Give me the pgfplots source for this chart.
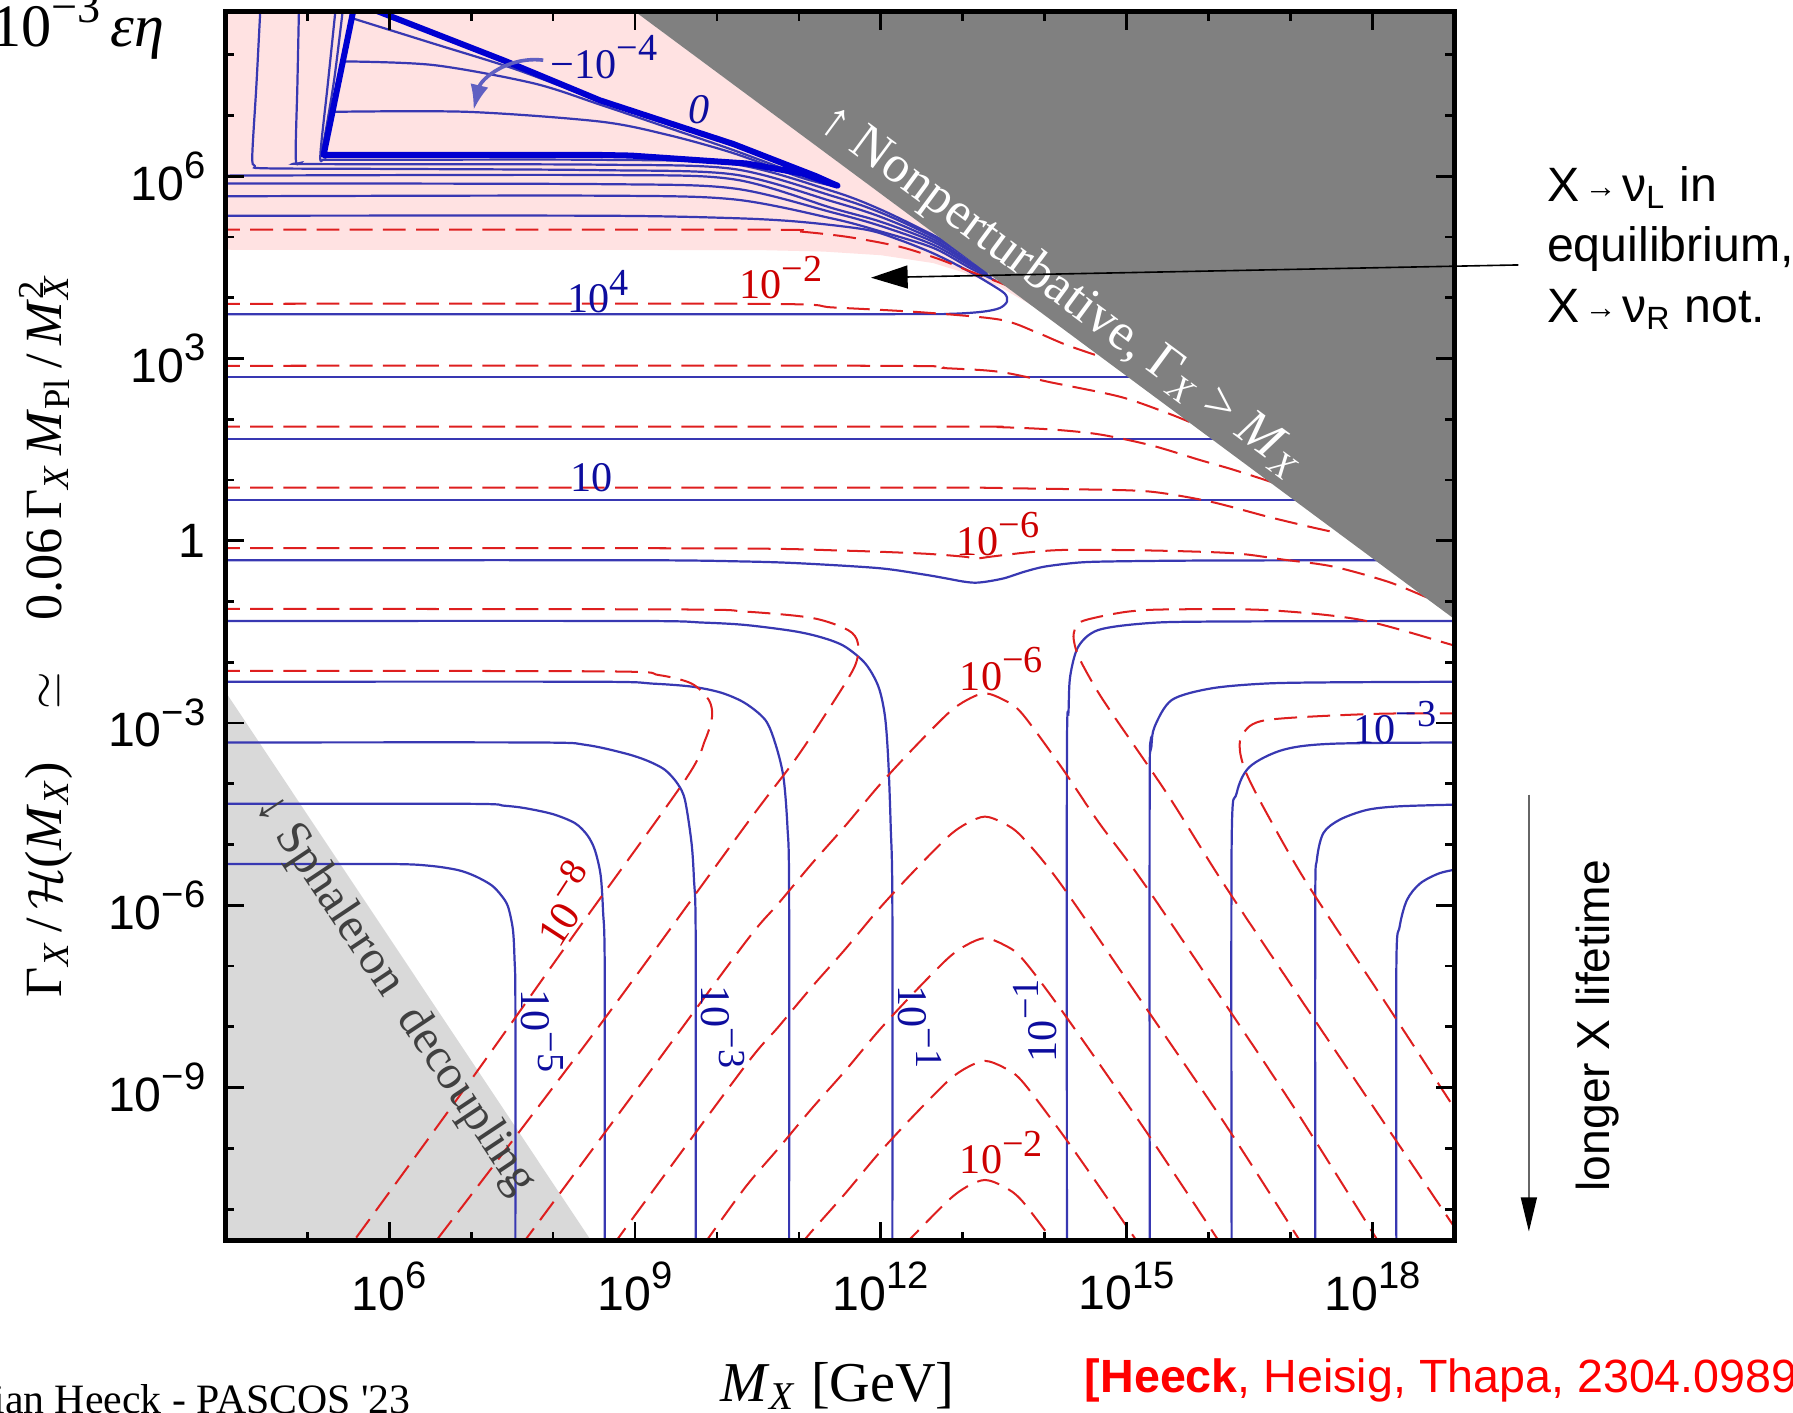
\documentclass[border=0pt]{standalone}
\usepackage{fontspec}
\setmainfont{Liberation Serif}
\setsansfont{Liberation Sans}
\usepackage{pgfplots}
\pgfplotsset{compat=1.18}
\usetikzlibrary{arrows.meta}
\definecolor{cblue}{rgb}{0.22,0.22,0.70}
\definecolor{cthick}{rgb}{0,0,0.82}
\definecolor{cred}{rgb}{0.87,0.12,0.12}
\definecolor{lblue}{rgb}{0.05,0.05,0.62}
\definecolor{lred}{rgb}{0.80,0,0}
\definecolor{pinkbg}{rgb}{1,0.885,0.885}
\definecolor{dgray}{gray}{0.5}
\definecolor{lgray}{gray}{0.85}
\newcommand{\sfexp}[1]{10\raisebox{0.45em}{\fontsize{9.5}{9.5}\selectfont #1}}
\newcommand{\sexp}[1]{10\raisebox{0.42em}{\fontsize{9.5}{9.5}\selectfont #1}}
\pgfplotsset{
  bl/.style={cblue, line width=0.55pt, no marks},
  rd/.style={cred, line width=0.5pt, no marks, dash pattern=on 0.2cm off 0.09cm},
}
\tikzset{cl/.style={font=\fontsize{10.5}{11}\selectfont, inner sep=0pt}}
\begin{document}
\begin{tikzpicture}
\begin{axis}[
  at={(0,0)}, anchor=south west,
  x=0.71667cm, y=0.53133cm,
  xmin=4, xmax=19, ymin=-11.52, ymax=8.71,
  axis on top, clip mode=individual,
  axis line style={line width=1.2pt, black},
  xtick={6,9,12,15,18}, minor xtick={5,7,8,10,11,13,14,16,17},
  ytick={-9,-6,-3,0,3,6}, minor ytick={-11,-10,-8,-7,-5,-4,-2,-1,1,2,4,5,7,8},
  xticklabels={\sfexp{6},\sfexp{9},\sfexp{12},\sfexp{15},\sfexp{18}},
  yticklabels={\sfexp{−9},\sfexp{−6},\sfexp{−3},1,\sfexp{3},\sfexp{6}},
  major tick length=0.16cm, minor tick length=0.08cm,
  tick style={black, line width=0.7pt},
  ticklabel style={font=\fontsize{12}{14}\selectfont\sffamily},
  xticklabel style={yshift=-0.06cm},
  yticklabel style={xshift=-0.05cm},
]
\addplot[fill=pinkbg, draw=none] coordinates {(4,8.71) (9.0,8.71) (13.82,3.89) (13.45,4.18) (13.0,4.42) (12.64,4.57) (12.0,4.70) (11.3,4.76) (10.5,4.785) (4,4.79)} -- cycle;
\addplot[fill=lgray, draw=none] coordinates {(4,-2.48) (8.465,-11.52) (4,-11.52)} -- cycle;

\addplot[bl, smooth] coordinates {(4,-5.32) (6.0,-5.32) (6.5,-5.35) (6.84,-5.42) (7.05,-5.52) (7.25,-5.67) (7.37,-5.84) (7.45,-6.02) (7.51,-6.4) (7.53,-6.9) (7.54,-7.6) (7.54,-11.6)};
\addplot[bl, smooth] coordinates {(4,-4.33) (7.0,-4.33) (7.4,-4.36) (7.655,-4.40) (8.0,-4.50) (8.27,-4.65) (8.42,-4.85) (8.51,-5.09) (8.58,-5.5) (8.61,-6.1) (8.63,-7.0) (8.63,-11.6)};
\addplot[bl, smooth] coordinates {(4,-3.32) (7.8,-3.32) (8.4,-3.36) (8.88,-3.50) (9.15,-3.62) (9.365,-3.77) (9.52,-4.0) (9.61,-4.27) (9.69,-4.98) (9.72,-5.6) (9.74,-6.5) (9.74,-11.6)};
\addplot[bl, smooth] coordinates {(4,-2.32) (8.5,-2.32) (9.2,-2.35) (9.69,-2.40) (10.05,-2.50) (10.34,-2.67) (10.59,-2.95) (10.71,-3.33) (10.81,-3.88) (10.86,-4.71) (10.88,-5.8) (10.88,-11.6)};
\addplot[bl, smooth] coordinates {(4,-1.32) (9.0,-1.32) (9.8,-1.345) (10.34,-1.385) (10.95,-1.49) (11.3,-1.60) (11.56,-1.74) (11.81,-2.02) (11.97,-2.40) (12.05,-2.89) (12.09,-3.61) (12.12,-4.71) (12.14,-6.0) (12.14,-11.6)};
\addplot[bl, smooth] coordinates {(14.27,-11.6) (14.27,-3.61) (14.29,-2.8) (14.31,-2.23) (14.41,-1.74) (14.65,-1.47) (15.22,-1.36) (16.0,-1.33) (19.1,-1.32)};
\addplot[bl, smooth] coordinates {(15.28,-11.6) (15.28,-4.0) (15.30,-3.4) (15.34,-3.06) (15.55,-2.62) (16.03,-2.43) (16.69,-2.35) (17.5,-2.33) (19.1,-2.32)};
\addplot[bl, smooth] coordinates {(16.28,-11.6) (16.28,-5.0) (16.34,-4.16) (16.50,-3.72) (16.91,-3.44) (17.52,-3.34) (19.1,-3.32)};
\addplot[bl, smooth] coordinates {(17.30,-11.6) (17.30,-6.0) (17.32,-5.25) (17.40,-4.81) (17.60,-4.59) (17.93,-4.43) (18.33,-4.37) (19.1,-4.34)};
\addplot[bl, smooth] coordinates {(18.29,-11.6) (18.29,-7.0) (18.33,-6.35) (18.42,-5.91) (18.58,-5.64) (18.82,-5.47) (19.1,-5.39)};
\addplot[bl, smooth] coordinates {(4,-0.32) (9.0,-0.32) (10.3,-0.34) (11.0,-0.37) (11.97,-0.45) (12.5,-0.55) (12.78,-0.615) (13.0,-0.67) (13.15,-0.69) (13.3,-0.67) (13.51,-0.615) (13.75,-0.51) (14.0,-0.425) (14.4,-0.36) (14.81,-0.34) (16.0,-0.325) (18.5,-0.32)};
\addplot[bl] coordinates {(4,0.67) (17.5,0.67)};
\addplot[bl] coordinates {(4,1.68) (16.5,1.68)};
\addplot[bl] coordinates {(4,2.69) (15.5,2.69)};
\addplot[bl, smooth] coordinates {(4,3.73) (12.0,3.73) (12.84,3.735) (13.24,3.77) (13.45,3.83) (13.54,3.94) (13.51,4.07) (13.32,4.24) (13.04,4.46) (12.64,4.73) (12.23,4.95) (11.82,5.12) (11.01,5.25) (10.20,5.31) (8.57,5.35) (4,5.35)};
\addplot[bl, smooth] coordinates {(4,5.67) (8.57,5.68) (10.2,5.62) (11.42,5.30) (12.0,5.09) (12.64,4.82) (13.1,4.48) (13.4,4.28)};
\addplot[bl, smooth] coordinates {(4,5.88) (8.57,5.87) (10.2,5.80) (11.42,5.40) (12.0,5.18) (12.64,4.87) (13.1,4.52) (13.35,4.33)};
\addplot[bl, smooth] coordinates {(4,6.01) (8.57,6.02) (10.2,5.95) (11.42,5.47) (12.0,5.25) (12.64,4.92) (13.1,4.55) (13.3,4.38)};
\addplot[bl, smooth] coordinates {(4.43,8.8) (4.38,7.5) (4.33,6.35) (4.36,6.17) (4.5,6.13) (6,6.12) (8.57,6.10) (10.2,6.03) (11.42,5.58) (12.0,5.33) (12.64,4.96) (13.1,4.58) (13.3,4.40)};
\addplot[bl, smooth] coordinates {(4.90,8.8) (4.88,7.5) (4.86,6.30) (4.92,6.22) (5.1,6.20) (8.57,6.19) (10.2,6.12) (11.42,5.67) (12.0,5.40) (12.64,5.0) (13.1,4.62) (13.3,4.42)};
\addplot[bl, smooth] coordinates {(5.35,8.8) (5.25,7.5) (5.16,6.34) (5.22,6.28) (5.5,6.27) (8.57,6.27) (10.2,6.20) (11.42,5.75) (12.0,5.45) (12.64,5.03) (13.0,4.75)};
\addplot[bl, smooth] coordinates {(5.44,8.8) (5.33,7.6) (5.22,6.7) (5.17,6.36)};
\addplot[bl, smooth] coordinates {(5.55,8.6) (6.5,8.2) (7.5,7.78) (8.3,7.38) (8.7,7.2)};
\addplot[bl, smooth] coordinates {(5.44,7.89) (6.54,7.83) (7.76,7.53) (8.57,7.18) (9.4,6.80) (10.2,6.43) (11.0,6.03) (11.35,5.87)};
\addplot[bl, smooth] coordinates {(5.31,7.06) (6.95,7.06) (8.57,6.90) (9.4,6.68) (10.2,6.38) (11.0,5.99) (11.35,5.86)};
\addplot[cthick, line width=1.5pt, line join=round, no marks] coordinates {(5.583,8.86) (5.20,6.35) (8.57,6.35) (8.95,6.34) (10.36,6.21) (11.06,6.04) (11.38,5.88) (11.47,5.845) (11.40,5.885) (11.21,6.00) (10.20,6.53) (8.57,7.25) (7.41,7.90) (5.87,8.71)} -- cycle;

\addplot[rd, smooth] coordinates {(3.9,5.12) (10.5,5.12) (11.01,5.09) (11.6,5.0) (12.23,4.84) (12.7,4.64) (13.04,4.46) (13.37,4.29) (13.6,4.17)};
\addplot[rd, smooth] coordinates {(3.9,3.90) (10.5,3.90) (11.42,3.84) (12.5,3.76) (13.45,3.64) (13.9,3.43) (14.27,3.22) (14.79,2.98)};
\addplot[rd, smooth] coordinates {(3.9,2.88) (12.0,2.88) (12.8,2.84) (13.45,2.78) (14.1,2.60) (14.92,2.37) (15.5,2.10) (15.9,1.88)};
\addplot[rd, smooth] coordinates {(3.9,1.88) (12.8,1.88) (13.45,1.87) (14.1,1.83) (14.67,1.75) (15.3,1.57) (15.89,1.33) (16.3,1.17) (16.85,0.93)};
\addplot[rd, smooth] coordinates {(3.9,0.875) (12.5,0.875) (13.57,0.864) (14.5,0.845) (15.28,0.81) (16.0,0.65) (16.71,0.40) (17.2,0.24) (17.6,0.12)};
\addplot[rd, smooth] coordinates {(3.9,-0.12) (10.0,-0.125) (11.5,-0.16) (12.5,-0.21) (13.0,-0.26) (13.17,-0.29) (13.35,-0.26) (13.8,-0.19) (14.27,-0.15) (15.3,-0.16) (16.30,-0.205) (16.91,-0.31) (17.52,-0.425) (18.2,-0.68) (18.74,-0.975) (19.1,-1.15)};
\addplot[rd, smooth] coordinates {(3.9,-1.12) (9.5,-1.13) (10.34,-1.165) (11.16,-1.27) (11.60,-1.47) (11.72,-1.69) (11.68,-2.07) (11.36,-2.78) (10.95,-3.61) (10.34,-4.70) (8.5,-8.1) (6.5,-11.65)};
\addplot[rd, smooth] coordinates {(3.9,-2.14) (8.67,-2.15) (9.29,-2.21) (9.69,-2.35) (9.90,-2.62) (9.94,-2.89) (9.855,-3.28) (9.61,-3.94) (8.3,-6.4) (7.0,-8.87) (5.5,-11.65)};
\addplot[rd, smooth] coordinates {(19.1,-1.77) (18.96,-1.71) (17.85,-1.30) (16.69,-1.14) (15.5,-1.13) (15.02,-1.165) (14.6,-1.27) (14.41,-1.36) (14.35,-1.575) (14.41,-1.90) (14.61,-2.40) (14.82,-2.84) (15.5,-4.18) (16.18,-5.64) (17.2,-7.7) (18.2,-9.7) (19.1,-11.5)};
\addplot[rd, smooth] coordinates {(19.1,-2.84) (18.0,-2.85) (16.71,-2.95) (16.42,-3.17) (16.38,-3.44) (16.46,-3.83) (16.71,-4.49) (17.20,-5.64) (18.19,-7.67) (19.1,-9.55)};
\addplot[rd, smooth] coordinates {(7.6,-11.62) (9.0,-9.07) (10.34,-6.62) (10.75,-5.97) (11.16,-5.31) (11.56,-4.70) (11.97,-4.04) (12.38,-3.44) (12.82,-2.84) (13.05,-2.62) (13.27,-2.51) (13.50,-2.62) (13.72,-2.84) (14.20,-3.72) (14.65,-4.62) (15.21,-5.64) (16.2,-7.62) (17.1,-9.45) (18.1,-11.6)};
\addplot[rd, smooth] coordinates {(8.72,-11.62) (9.0,-11.10) (10.34,-8.65) (10.75,-8.00) (11.16,-7.34) (11.56,-6.73) (11.97,-6.07) (12.38,-5.47) (12.82,-4.87) (13.05,-4.65) (13.27,-4.54) (13.50,-4.65) (13.72,-4.87) (14.19,-5.64) (15.2,-7.62) (16.2,-9.6) (17.15,-11.6)};
\addplot[rd, smooth] coordinates {(9.82,-11.62) (10.34,-10.65) (10.75,-10.00) (11.16,-9.34) (11.56,-8.73) (11.97,-8.07) (12.38,-7.47) (12.82,-6.87) (13.05,-6.65) (13.27,-6.54) (13.50,-6.65) (13.72,-6.87) (14.20,-7.72) (15.2,-9.65) (16.16,-11.6)};
\addplot[rd, smooth] coordinates {(11.0,-11.62) (11.16,-11.36) (11.56,-10.75) (11.97,-10.09) (12.38,-9.49) (12.82,-8.89) (13.05,-8.67) (13.27,-8.56) (13.50,-8.67) (13.72,-8.89) (14.20,-9.74) (14.65,-10.6) (15.16,-11.6)};
\addplot[rd, smooth] coordinates {(12.27,-11.62) (12.38,-11.46) (12.82,-10.86) (13.05,-10.63) (13.27,-10.52) (13.50,-10.63) (13.72,-10.86) (14.14,-11.6)};

\addplot[fill=dgray, draw=none] coordinates {(9.0,8.71) (19,8.71) (19,-1.29)} -- cycle;

\draw[cblue!80!white, line width=0.9pt, -{Latex[length=0.22cm,width=0.16cm]}] (axis cs:7.88,7.91) .. controls (axis cs:7.45,7.98) and (axis cs:7.12,7.6) .. (axis cs:7.03,7.09);
\node[cl, lblue] at (axis cs:8.62,7.96) {−\sexp{−4}};
\node[cl, lblue, font=\fontsize{10.5}{11}\selectfont\itshape] at (axis cs:9.78,7.10) {0};
\node[cl, lblue] at (axis cs:8.55,4.10) {\sexp{4}};
\node[cl, lred] at (axis cs:10.78,4.33) {\sexp{−2}};
\node[cl, lblue] at (axis cs:8.47,1.035) {10};
\node[cl, lred] at (axis cs:13.43,0.11) {\sexp{−6}};
\node[cl, lred] at (axis cs:13.47,-2.11) {\sexp{−6}};
\node[cl, lblue] at (axis cs:18.27,-2.99) {\sexp{−3}};
\node[cl, lred, rotate=57] at (axis cs:8.13,-5.97) {\sexp{−8}};
\node[cl, lblue, rotate=-90] at (axis cs:7.87,-8.07) {\sexp{−5}};
\node[cl, lblue, rotate=-90] at (axis cs:10.07,-8.0) {\sexp{−3}};
\node[cl, lblue, rotate=-90] at (axis cs:12.48,-8.0) {\sexp{−1}};
\node[cl, lblue, rotate=90] at (axis cs:13.88,-7.9) {\sexp{−1}};
\node[cl, lred] at (axis cs:13.47,-10.07) {\sexp{−2}};

\node[white, rotate=-36.5, font=\fontsize{13}{13}\selectfont, inner sep=0pt] at (axis cs:14.2,4.10) {↑ Nonperturbative, Γ\textsubscript{\textit{X}} > \textit{M}\textsubscript{\textit{X}}};
\node[black!75, rotate=-56.3, font=\fontsize{12}{12}\selectfont, inner sep=0pt] at (axis cs:6.07,-7.47) {↓ Sphaleron\ \ decoupling};

\node[anchor=base east, font=\fontsize{15}{15}\selectfont, inner sep=0pt] at (axis cs:3.27,8.14) {10\raisebox{0.40em}{\fontsize{11.5}{11.5}\selectfont −3}\,\textit{εη}};
\node[anchor=base west, font=\fontsize{12}{12}\selectfont\sffamily, inner sep=0pt] at (axis cs:20.12,5.59) {X{\fontsize{8}{8}\selectfont\raisebox{0.12em}{\,→\,}}ν\textsubscript{L} in};
\node[anchor=base west, font=\fontsize{12}{12}\selectfont\sffamily, inner sep=0pt] at (axis cs:20.12,4.59) {equilibrium,};
\node[anchor=base west, font=\fontsize{12}{12}\selectfont\sffamily, inner sep=0pt] at (axis cs:20.12,3.60) {X{\fontsize{8}{8}\selectfont\raisebox{0.12em}{\,→\,}}ν\textsubscript{R} not.};
\draw[black, line width=0.4pt, -{Triangle[length=0.32cm,width=0.2cm]}] (axis cs:19.78,4.54) -- (axis cs:11.88,4.33);
\draw[black!60, line width=0.4pt, -{Triangle[length=0.3cm,width=0.14cm,color=black]}] (axis cs:19.907,-4.18) -- (axis cs:19.907,-11.37);
\node[rotate=90, font=\fontsize{11.5}{12}\selectfont\sffamily, inner sep=0pt] at (axis cs:20.74,-7.98) {longer X lifetime};
\node[font=\fontsize{14}{14}\selectfont, inner sep=0pt] at (axis cs:11.47,-13.91) {\textit{M}\textsubscript{\textit{X}} [GeV]};
\node[rotate=90, font=\fontsize{13}{14}\selectfont, inner sep=0pt] at (axis cs:1.81,-1.60) {Γ\textsubscript{\textit{X}}\,/\,$\mathcal{H}$(\textit{M}\textsubscript{\textit{X}})\quad$\simeq$\quad 0.06\,Γ\textsubscript{\textit{X}}\,\textit{M}\textsubscript{Pl}\,/\,\textit{M}\rlap{\textsubscript{\textit{X}}}\textsuperscript{2}};
\node[anchor=base east, font=\fontsize{10.4}{11}\selectfont, inner sep=0pt] at (axis cs:6.27,-14.37) {Julian Heeck - PASCOS \textquotesingle 23};
\node[anchor=base west, font=\fontsize{11.6}{12}\selectfont\sffamily, inner sep=0pt, red] at (axis cs:14.48,-14.02) {\textbf{[Heeck}, Heisig, Thapa, 2304.09893]};
\end{axis}
\pgfresetboundingbox
\path[use as bounding box] (-1.97,-1.50) rectangle (13.71,10.85);
\end{tikzpicture}
\end{document}
